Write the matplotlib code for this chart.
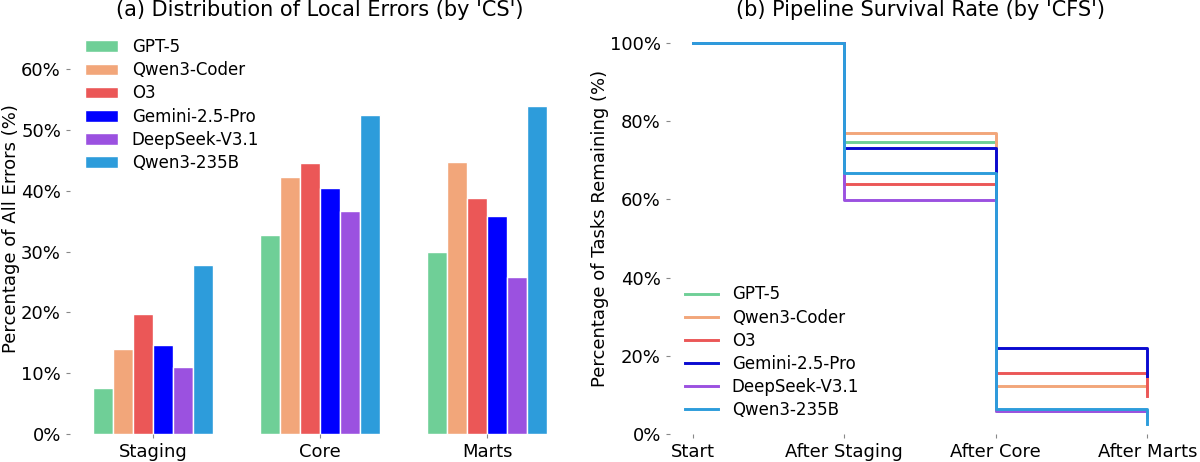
import matplotlib
matplotlib.use("Agg")
import matplotlib.pyplot as plt
import numpy as np
from matplotlib.ticker import PercentFormatter

plt.rcParams['font.family'] = ['DejaVu Sans']

models = ["GPT-5", "Qwen3-Coder", "O3", "Gemini-2.5-Pro", "DeepSeek-V3.1", "Qwen3-235B"]
bar_colors = ["#6FCF97", "#F2A67A", "#EB5757", "#0000FF", "#9B51E0", "#2D9CDB"]
line_colors = ["#6FCF97", "#F2A67A", "#EB5757", "#0A0AD0", "#9B51E0", "#2D9CDB"]

# (a) Distribution of local errors (%)
layers = ["Staging", "Core", "Marts"]
gpt5_err = [7.6, 32.7, 29.9]
qwen_coder_err = [14.0, 42.2, 44.7]
o3_err = [19.8, 44.6, 38.8]
gemini_err = [14.6, 40.4, 35.9]
deepseek_err = [11.1, 36.7, 25.9]
qwen235_err = [27.8, 52.4, 53.9]
errors = [gpt5_err, qwen_coder_err, o3_err, gemini_err, deepseek_err, qwen235_err]

# (b) Pipeline survival rate (%)
stages = ["Start", "After Staging", "After Core", "After Marts"]
gpt5_surv = [100, 74.6, 6.0, 4.5]
qwen_coder_surv = [100, 77.0, 12.3, 11.0]
o3_surv = [100, 63.8, 15.6, 9.9]
gemini_surv = [100, 73.1, 22.0, 14.9]
deepseek_surv = [100, 59.9, 5.9, 4.8]
qwen235_surv = [100, 66.6, 6.4, 2.5]
survival = [gpt5_surv, qwen_coder_surv, o3_surv, gemini_surv, deepseek_surv, qwen235_surv]

fig = plt.figure(figsize=(12, 4.62), dpi=100)
ax1 = fig.add_axes([70/1200, 0.06, 500/1200, 0.89])
ax2 = fig.add_axes([670/1200, 0.06, 500/1200, 0.89])

width = 0.12
x = np.arange(len(layers))
for i, (m, c, vals) in enumerate(zip(models, bar_colors, errors)):
    ax1.bar(x + (i - 2.5) * width, vals, width, color=c, edgecolor='white',
            linewidth=1, label=m)
ax1.set_xticks(x)
ax1.set_xticklabels(layers)
ax1.set_ylim(0, 67.5)
ax1.set_yticks(np.arange(0, 61, 10))
ax1.yaxis.set_major_formatter(PercentFormatter(decimals=0))
ax1.set_ylabel("Percentage of All Errors (%)", fontsize=13, labelpad=1)
ax1.set_title("(a) Distribution of Local Errors (by 'CS')", fontsize=15, pad=5)
ax1.legend(loc='upper left', frameon=False, fontsize=12, labelspacing=0.31)

xs = np.arange(len(stages))
for m, c, vals in zip(models, line_colors, survival):
    ax2.step(xs, vals, where='post', color=c, lw=2.1, label=m)
ax2.set_xticks(xs)
ax2.set_xticklabels(stages)
ax2.set_ylim(0, 105)
ax2.set_yticks(np.arange(0, 101, 20))
ax2.yaxis.set_major_formatter(PercentFormatter(decimals=0))
ax2.set_ylabel("Percentage of Tasks Remaining (%)", fontsize=13, labelpad=1)
ax2.set_title("(b) Pipeline Survival Rate (by 'CFS')", fontsize=15, pad=5)
ax2.legend(loc='lower left', frameon=False, fontsize=12, labelspacing=0.31)

for ax in (ax1, ax2):
    for s in ax.spines.values():
        s.set_visible(False)
    ax.tick_params(axis='both', labelsize=13, length=3, width=0.8, color='#888888')

fig.savefig("out.png", dpi=100)
